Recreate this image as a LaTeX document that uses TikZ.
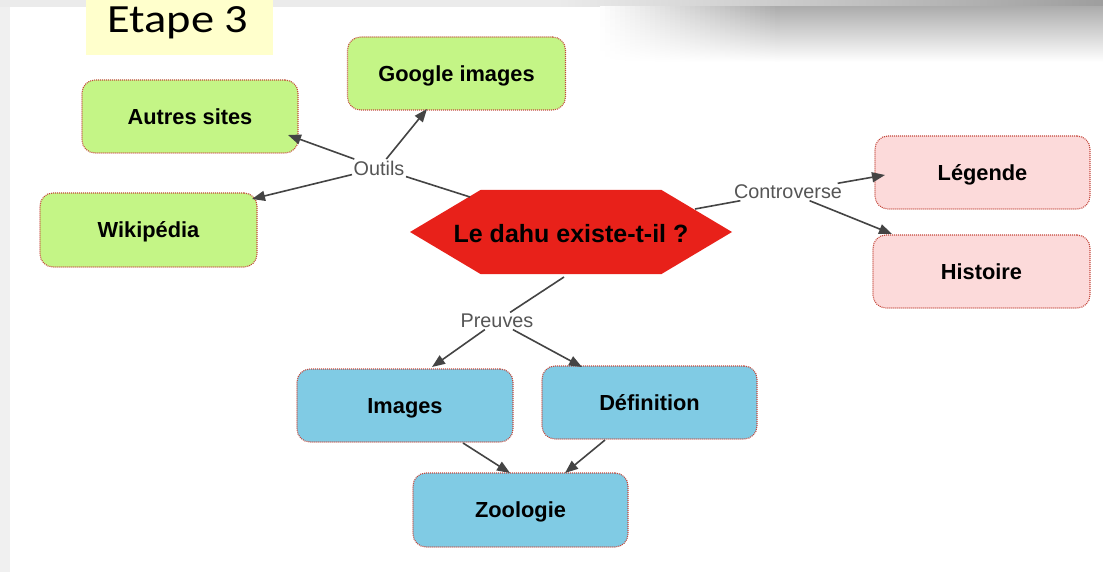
\documentclass[tikz,border=0pt]{standalone}
\usepackage{fontspec}
\setmainfont{Liberation Sans}
\newfontfamily\calib{Carlito}
\usetikzlibrary{arrows.meta,calc}
\definecolor{greenfill}{RGB}{196,245,134}
\definecolor{bluefill}{RGB}{128,203,228}
\definecolor{pinkfill}{RGB}{252,218,218}
\definecolor{hexred}{RGB}{232,33,26}
\definecolor{dotred}{RGB}{196,72,60}
\definecolor{linegray}{RGB}{68,68,68}
\definecolor{labgray}{RGB}{85,85,85}
\definecolor{notebg}{RGB}{255,255,204}
\tikzset{
  box/.style={draw=dotred, line width=1.1pt, dash pattern=on 1pt off 1pt,
    rounded corners=13pt, minimum width=216pt, minimum height=73pt,
    font=\fontsize{21.8}{26}\selectfont\bfseries, inner sep=0pt,
    text height=15.6pt, text depth=0pt},
  gbox/.style={box, fill=greenfill},
  bbox/.style={box, fill=bluefill},
  pbox/.style={box, fill=pinkfill},
  lab/.style={text=labgray, font=\fontsize{19.8}{24}\selectfont, inner sep=1.5pt},
  conn/.style={draw=linegray, line width=1.6pt},
  arr/.style={conn, -{Triangle[length=13pt,width=10pt]}},
}
\begin{document}
\begin{tikzpicture}[x=1pt,y=-1pt]
\useasboundingbox (0,0) rectangle (1103,572);
% frame
\fill[black!6] (0,0) rectangle (1103,572);
\fill[white] (10,7) rectangle (1103,572);
\fill[black!8] (0,0) rectangle (560,7);
\shade[left color=black!8, right color=black!38] (560,0) rectangle (1103,7);
\foreach \i in {0,...,35}{
  \pgfmathsetmacro\sh{0.9*(\i+1)}
  \shade[top color=black!\sh, bottom color=white] ({600+5*\i},7) rectangle ({605.6+5*\i},62);
}
\shade[top color=black!32, bottom color=white] (780,7) rectangle (1103,62);
% title
\node[fill=notebg, minimum width=187pt, minimum height=55pt, anchor=north west, inner sep=0pt] (etapebox) at (86,0) {};
\node[anchor=base, inner sep=0pt, font=\calib\fontsize{40}{48}\selectfont] (etape) at (178,32.5) {\scalebox{1.16}[1]{Etape 3}};
% nodes
\node[gbox, minimum width=218pt] (google) at (456.5,73.5) {Google images};
\node[gbox] (autres) at (190,116.5) {Autres sites};
\node[gbox, minimum width=217pt, minimum height=74pt] (wiki) at (148.5,230) {Wikipédia};
\node[pbox, minimum width=215pt] (legende) at (982.5,172.5) {Légende};
\node[pbox, minimum width=217pt] (histoire) at (981.5,271.5) {Histoire};
\node[bbox] (images) at (405,405.5) {Images};
\node[bbox, minimum width=215pt] (definition) at (649.5,402.5) {Définition};
\node[bbox, minimum width=215pt, minimum height=74pt] (zoologie) at (520.5,510) {Zoologie};
% central hexagon
\coordinate (hexc) at (571,232);
\fill[hexred] ($(hexc)+(-161,0)$) -- ($(hexc)+(-90.5,-42)$) -- ($(hexc)+(90.5,-42)$)
  -- ($(hexc)+(161,0)$) -- ($(hexc)+(90.5,42)$) -- ($(hexc)+(-90.5,42)$) -- cycle;
\node[inner sep=0pt, text height=18pt, text depth=0pt,
  font=\fontsize{25}{30}\selectfont\bfseries] (hex) at ($(hexc)+(0,1.5)$) {Le dahu existe-t-il ?};
% labels
\node[lab] (outils) at (379,168) {Outils};
\node[lab] (controverse) at (788,192) {Controverse};
\node[lab] (preuves) at (497,321) {Preuves};
% connectors
\draw[conn] ($(hexc)+(-101,-35)$) -- (outils);
\draw[arr] (outils) -- ($(autres)+(98,18.5)$);
\draw[arr] (outils) -- ($(google)+(-29.5,35.5)$);
\draw[arr] (outils) -- ($(wiki)+(103.5,-31)$);
\draw[conn] ($(hexc)+(124,-23)$) -- (controverse);
\draw[arr] (controverse) -- ($(legende)+(-97.5,2.5)$);
\draw[arr] (controverse) -- ($(histoire)+(-89.5,-37.5)$);
\draw[conn] ($(hexc)+(-7,45)$) -- (preuves);
\draw[arr] (preuves) -- ($(images)+(27,-38.5)$);
\draw[arr] (preuves) -- ($(definition)+(-67.5,-35.5)$);
\draw[arr] ($(images)+(58,37.5)$) -- ($(zoologie)+(-10.5,-37)$);
\draw[arr] ($(definition)+(-44.5,37.5)$) -- ($(zoologie)+(44.5,-37)$);
\end{tikzpicture}
\end{document}
